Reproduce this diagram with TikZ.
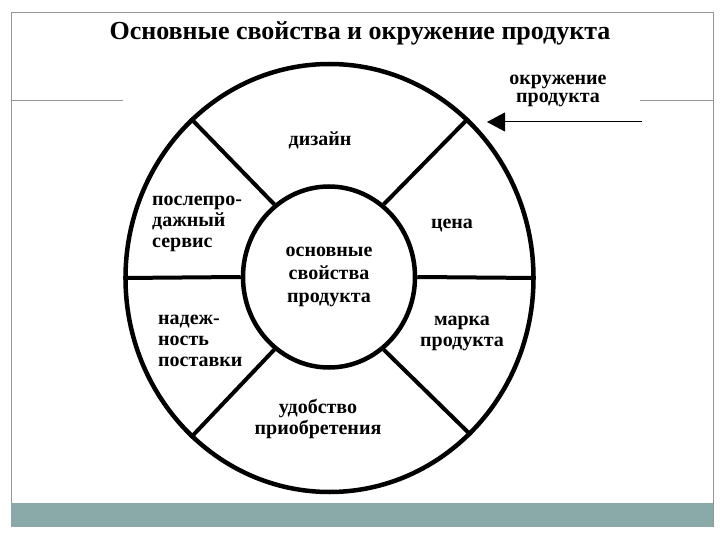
\documentclass[tikz,border=0pt]{standalone}
\usepackage{fontspec}
\setmainfont{Liberation Serif}
\usetikzlibrary{arrows.meta,shapes.geometric}
\definecolor{frame}{RGB}{150,150,150}
\definecolor{teal}{RGB}{138,170,170}
\tikzset{
  frameline/.style={draw=frame, line width=0.8pt},
  ring/.style={draw=black, line width=4.5pt},
  spoke/.style={draw=black, line width=4pt},
  lbl/.style={font=\fontsize{20}{21}\selectfont\bfseries, inner sep=0pt},
  lblL/.style={lbl, align=left, anchor=west},
  lblC/.style={lbl, align=center},
}
\begin{document}
\begin{tikzpicture}[x=1pt,y=-1pt]
\useasboundingbox (0,0) rectangle (720,540);
% frame
\draw[frameline] (11,12) -- (713,12);
\draw[frameline] (11,12) -- (11,527);
\draw[frameline] (713,12) -- (713,527);
\fill[teal] (11,503) rectangle (713,527);
\draw[frameline] (11,100) -- (123,100);
\draw[frameline] (640,100) -- (713,100);
% title
\node[font=\fontsize{26}{28}\selectfont\bfseries, inner sep=0pt] (title) at (360,33) {Основные свойства и окружение продукта};
% circles
\node[ellipse, ring, minimum width=408pt, minimum height=428pt, inner sep=0pt] (outer) at (329.5,278) {};
\node[ellipse, ring, minimum width=172pt, minimum height=181pt, inner sep=0pt, align=center, font=\fontsize{20}{23}\selectfont\bfseries] (inner) at (329,277) {основные\\свойства\\продукта};
% spokes
\draw[spoke] (inner.0) -- (outer.0);
\draw[spoke] (inner.180) -- (outer.180);
\draw[spoke] (inner.53) -- (outer.49);
\draw[spoke] (inner.127) -- (outer.131);
\draw[spoke] (inner.233) -- (outer.229);
\draw[spoke] (inner.307) -- (outer.312);
% labels
\node[lblC] (design) at (320,140) {дизайн};
\node[lblL] (service) at (152,224) {послепро-\\дажный\\сервис};
\node[lblC] (price) at (452,226) {цена};
\node[lblL] (reliab) at (158,341) {надеж-\\ность\\поставки};
\node[lblC] (brand) at (462,333) {марка\\продукта};
\node[lblC] (conv) at (318,419) {удобство\\приобретения};
\node[lblC, font=\fontsize{20}{18.5}\selectfont\bfseries] (env) at (558,91) {окружение\\продукта};
% arrow
\coordinate (astart) at (642,122);
\coordinate (aend) at (487,122);
\draw[black, line width=1pt, -{Triangle[length=18pt,width=19pt]}] (astart) -- (aend);
\end{tikzpicture}
\end{document}
